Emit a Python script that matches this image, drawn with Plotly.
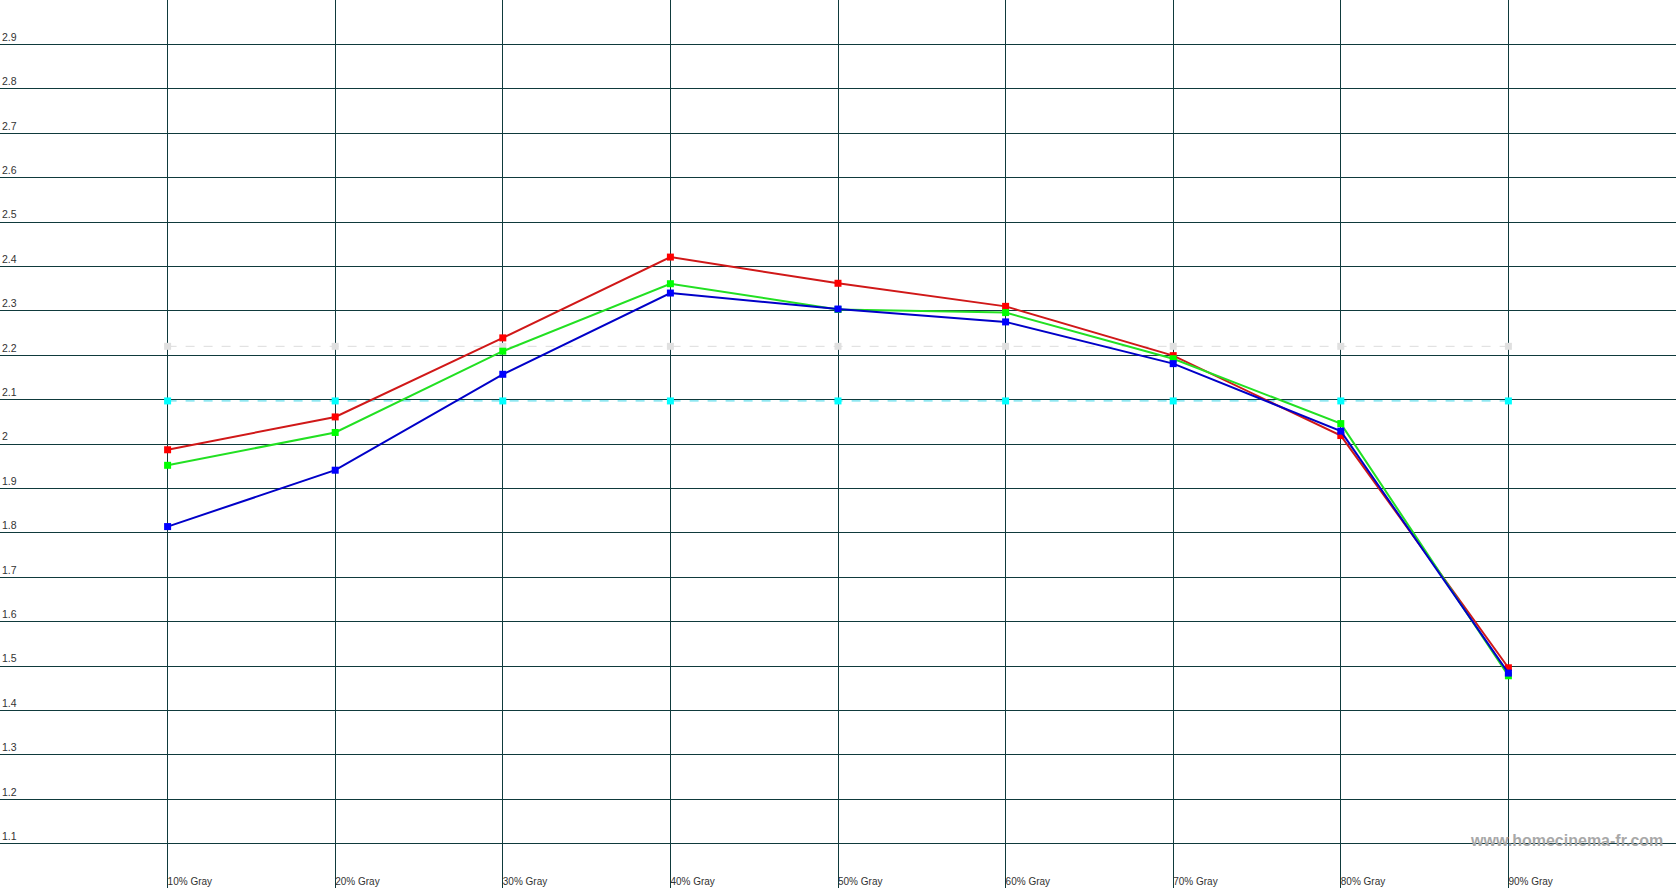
import plotly.graph_objects as go

levels = [10, 20, 30, 40, 50, 60, 70, 80, 90]
level_labels = ["10% Gray", "20% Gray", "30% Gray", "40% Gray", "50% Gray",
                "60% Gray", "70% Gray", "80% Gray", "90% Gray"]
red = [1.987, 2.061, 2.239, 2.421, 2.362, 2.310, 2.199, 2.019, 1.496]
green = [1.952, 2.026, 2.209, 2.361, 2.303, 2.296, 2.192, 2.046, 1.478]
blue = [1.814, 1.941, 2.157, 2.340, 2.304, 2.275, 2.181, 2.029, 1.484]
target_a = [2.22] * 9
target_b = [2.097] * 9

y_ticks = [round(1.0 + 0.1 * i, 1) for i in range(21)]
y_text = ["" if v in (1.0, 3.0) else f"{v:g}" for v in y_ticks]
x_ticks = [0] + levels + [100]
x_text = [""] + level_labels + [""]

GRID = "#0f3a3c"

fig = go.Figure()
fig.add_trace(go.Scatter(x=levels, y=target_a, mode="lines+markers",
                         line=dict(color="#dcdcdc", width=1, dash="dash"),
                         marker=dict(symbol="square", size=7, color="#e0e0e0")))
fig.add_trace(go.Scatter(x=levels, y=target_b, mode="lines+markers",
                         line=dict(color="#40d8e8", width=1, dash="dash"),
                         marker=dict(symbol="square", size=7, color="#00ffff")))
for vals, lc, mc in [(red, "#d01818", "#ff0000"),
                     (green, "#22e022", "#00ff00"),
                     (blue, "#0000c8", "#0000ff")]:
    fig.add_trace(go.Scatter(x=levels, y=vals, mode="lines+markers",
                             line=dict(color=lc, width=2),
                             marker=dict(symbol="square", size=7, color=mc)))

fig.update_layout(
    width=1676, height=888,
    margin=dict(l=0, r=0, t=0, b=0),
    paper_bgcolor="white", plot_bgcolor="white",
    showlegend=False,
    font=dict(family="Liberation Sans, Arial, sans-serif", size=10, color="#333333"),
    xaxis=dict(range=[0, 100], tickmode="array", tickvals=x_ticks, ticktext=x_text,
               showgrid=True, gridcolor=GRID, gridwidth=1, zeroline=False,
               ticklabelposition="inside right", ticklabelstandoff=-5,
               ticks="", showline=False,
               tickfont=dict(size=10, color="#333333")),
    yaxis=dict(range=[1.0, 3.0], tickmode="array", tickvals=y_ticks, ticktext=y_text,
               showgrid=True, gridcolor=GRID, gridwidth=1, zeroline=False,
               ticklabelposition="inside top", ticks="",
               showline=True, linecolor=GRID, linewidth=2,
               tickfont=dict(size=10.5, color="#333333")),
    annotations=[dict(text="<b>www.homecinema-fr.com</b>", xref="paper", yref="paper",
                      x=0.9935, y=0.054, xanchor="right", yanchor="middle",
                      showarrow=False,
                      font=dict(family="Liberation Sans, Arial, sans-serif",
                                size=16, color="#a8a8a8"))],
)

fig.write_html("out.html", config={"displayModeBar": False},
               post_script="document.body.style.margin='0';document.body.style.overflow='hidden';")
